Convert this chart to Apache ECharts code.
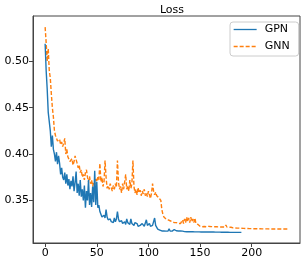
<!DOCTYPE html>
<html><head><meta charset="utf-8">
<script src="https://cdn.jsdelivr.net/npm/echarts@6/dist/echarts.min.js"></script>
<style>html,body{margin:0;padding:0;background:#fff}#c{width:304px;height:264px}</style>
</head><body><div id="c"></div>
<script>
const titleText = "Loss";
const seriesNames = ["GPN", "GNN"];
const xTicks = [0, 50, 100, 150, 200];
const yTicks = [0.35, 0.40, 0.45, 0.50];
const gpn = [
0.519,0.49,0.47,0.445,0.444,0.425,0.408,0.42,0.405,0.40,
0.392,0.402,0.389,0.398,0.39,0.378,0.385,0.375,0.372,0.38,
0.368,0.378,0.366,0.373,0.362,0.371,0.365,0.376,0.36,0.369,
0.381,0.358,0.368,0.355,0.372,0.354,0.362,0.35,0.366,0.342,
0.36,0.35,0.372,0.345,0.358,0.343,0.365,0.348,0.382,0.345,
0.37,0.342,0.345,0.338,0.335,0.332,0.33,0.334,0.331,0.34,
0.332,0.329,0.328,0.33,0.327,0.329,0.326,0.331,0.327,0.33,
0.338,0.33,0.327,0.326,0.328,0.325,0.324,0.327,0.324,0.33,
0.326,0.328,0.324,0.33,0.325,0.327,0.323,0.326,0.324,0.325,
0.322,0.324,0.323,0.322,0.325,0.323,0.322,0.324,0.329,0.323,
0.322,0.325,0.322,0.324,0.323,0.322,0.331,0.323,0.321,0.319,
0.318,0.318,0.317,0.317,0.3168,0.317,0.3172,0.3168,0.3175,0.317,
0.3192,0.317,0.3175,0.3168,0.317,0.3185,0.3168,0.3172,0.3168,0.317,
0.3188,0.317,0.3165,0.3168,0.3165,0.3163,0.3164,0.3162,0.3163,0.3162,
0.3162,0.3161,0.3162,0.3161,0.3161,0.316,0.3161,0.316,0.316,0.316,
0.316,0.3159,0.316,0.3159,0.3159,0.3159,0.3158,0.3159,0.3158,0.3158,
0.3158,0.3158,0.3157,0.3158,0.3157,0.3157,0.3157,0.3157,0.3156,0.3157,
0.3156,0.3156,0.3156,0.3156,0.3156,0.3156,0.3155,0.3156,0.3155,0.3155,
0.3155,0.3155,0.3155,0.3155,0.3155,0.3155,0.3155,0.3155,0.3155,0.3155,
0.3155
];
const gnn = [
0.537,0.52,0.50,0.514,0.49,0.482,0.465,0.45,0.44,0.425,
0.42,0.418,0.414,0.412,0.416,0.41,0.413,0.408,0.412,0.417,
0.40,0.405,0.397,0.395,0.392,0.39,0.395,0.388,0.392,0.398,
0.40,0.39,0.385,0.388,0.38,0.383,0.375,0.378,0.372,0.38,
0.383,0.375,0.37,0.376,0.368,0.372,0.365,0.37,0.367,0.373,
0.37,0.375,0.372,0.39,0.37,0.375,0.365,0.37,0.393,0.375,
0.363,0.366,0.362,0.368,0.364,0.36,0.366,0.362,0.368,0.364,
0.393,0.37,0.362,0.365,0.358,0.368,0.362,0.37,0.378,0.362,
0.366,0.36,0.372,0.363,0.368,0.393,0.365,0.358,0.362,0.356,
0.364,0.358,0.361,0.355,0.36,0.357,0.362,0.355,0.358,0.354,
0.36,0.356,0.352,0.358,0.368,0.36,0.356,0.359,0.355,0.357,
0.353,0.355,0.35,0.34,0.335,0.332,0.334,0.33,0.332,0.329,
0.331,0.328,0.33,0.327,0.329,0.326,0.328,0.326,0.327,0.325,
0.327,0.325,0.326,0.329,0.325,0.33,0.326,0.332,0.327,0.331,
0.326,0.332,0.327,0.33,0.326,0.331,0.325,0.327,0.324,0.323,
0.322,0.322,0.3215,0.322,0.3218,0.3222,0.3215,0.3218,0.322,0.3215,
0.3218,0.3214,0.3217,0.3213,0.3216,0.3212,0.3215,0.3212,0.3214,0.3211,
0.3213,0.3211,0.3213,0.321,0.3212,0.3235,0.3212,0.321,0.3211,0.3208,
0.321,0.3205,0.3203,0.3205,0.3202,0.3204,0.3201,0.3203,0.32,0.3202,
0.3199,0.3201,0.3198,0.32,0.3197,0.3199,0.3196,0.3198,0.3195,0.3197,
0.3195,0.3196,0.3194,0.3196,0.3194,0.3195,0.3193,0.3195,0.3193,0.3194,
0.3192,0.3194,0.3192,0.3193,0.3192,0.3193,0.3192,0.3193,0.3191,0.3192,
0.3191,0.3192,0.3191,0.3192,0.3191,0.3191,0.3191,0.3191,0.3191,0.3191,
0.3191,0.3191,0.3191,0.3191,0.3191,0.3191
];
const toPairs = a => a.map((v, i) => [i, v]);
const chart = echarts.init(document.getElementById('c'), null, {renderer: 'canvas'});
const font = 'DejaVu Sans';
chart.setOption({
  animation: false,
  backgroundColor: '#fff',
  title: {text: titleText, left: 167, top: 0, textAlign: 'center',
    textStyle: {fontFamily: font, fontSize: 11, fontWeight: 'normal', color: '#000'}},
  grid: {left: 33, top: 16, width: 267, height: 227, containLabel: false, show: true, borderColor: '#444', borderWidth: 1},
  legend: {data: seriesNames, orient: 'vertical', left: 230, top: 22, itemWidth: 23, itemHeight: 12, itemGap: 6,
    padding: [2, 9, 4, 3], borderColor: '#ccc', borderWidth: 1, borderRadius: 3, backgroundColor: '#fff',
    itemStyle: {opacity: 0},
    lineStyle: {width: 1.3},
    textStyle: {fontFamily: font, fontSize: 11, color: '#000', padding: [0, 0, 0, 3]}},
  xAxis: {type: 'value', min: -11.75, max: 246.75,
    axisLine: {show: true, onZero: false, lineStyle: {color: '#444'}},
    splitLine: {show: false},
    axisTick: {show: true, length: 4, lineStyle: {color: '#444'}, customValues: xTicks},
    axisLabel: {customValues: xTicks, fontFamily: font, fontSize: 11, color: '#000', margin: 5}},
  yAxis: {type: 'value', min: 0.304, max: 0.549,
    axisLine: {show: true, onZero: false, lineStyle: {color: '#444'}},
    splitLine: {show: false},
    axisTick: {show: true, length: 4, lineStyle: {color: '#444'}, customValues: yTicks},
    axisLabel: {customValues: yTicks, fontFamily: font, fontSize: 11, color: '#000', margin: 4,
      formatter: v => v.toFixed(2)}},
  series: [
    {name: seriesNames[0], type: 'line', data: toPairs(gpn), symbol: 'none', z: 3,
      lineStyle: {color: '#1f77b4', width: 1.4}, itemStyle: {color: '#1f77b4'}},
    {name: seriesNames[1], type: 'line', data: toPairs(gnn), symbol: 'none', z: 2,
      lineStyle: {color: '#ff7f0e', width: 1.4, type: [4, 2]}, itemStyle: {color: '#ff7f0e'}}
  ]
});
</script></body></html>
